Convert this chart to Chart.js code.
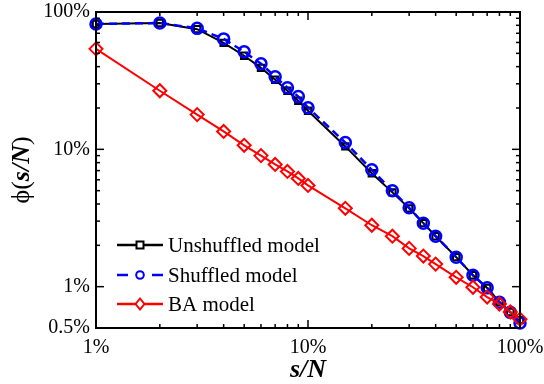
<!DOCTYPE html>
<html>
<head>
<meta charset="utf-8">
<script src="https://cdn.jsdelivr.net/npm/chart.js@4/dist/chart.umd.min.js"></script>
<style>
html,body{margin:0;padding:0;background:#fff;}
canvas{display:block;}
</style>
</head>
<body>
<canvas id="c" width="544" height="384"></canvas>
<script>
// Data (percent values)
const sizes = [1,2,3,4,5,6,7,8,9,10,15,20,25,30,35,40,50,60,70,80,90,100];
const unshuffled = [81.8,83.2,75,59.6,48,39.2,32.1,26.7,22.6,19.1,10.5,6.7,4.86,3.72,2.9,2.33,1.64,1.21,0.977,0.773,0.654,0.57];
const shuffled   = [81.8,83.2,76,63.7,51.3,42,33.8,28.1,24.2,20.1,11.2,7.1,5.0,3.75,2.9,2.33,1.64,1.21,0.98,0.77,0.65,0.543];
const baModel    = [53.9,26.7,17.9,13.5,10.7,9.0,7.76,6.9,6.14,5.46,3.72,2.8,2.33,1.9,1.67,1.46,1.17,0.99,0.84,0.748,0.654,0.58];
const seriesNames = ['Unshuffled model','Shuffled model','BA model'];
const xTickValues = [1,10,100];
const yTickValues = [0.5,1,10,100];
const xMinorValues = [2,3,4,5,6,7,8,9,20,30,40,50,60,70,80,90];
const yMinorValues = [2,3,4,5,6,7,8,9,20,30,40,50,60,70,80,90];

const FONT = "'Liberation Serif', 'Times New Roman', serif";

function pts(vals){ return sizes.map((s,i)=>({x:s,y:vals[i]})); }

const styles = [
  {color:'#000000', dash:[], width:2, pointStyle:'rect', r:4.5, pw:2, lr:3.5},
  {color:'#0000ff', dash:[8,5], width:2.5, pointStyle:'circle', r:5.5, pw:2.5, lr:3.8},
  {color:'#ff0000', dash:[], width:2, pointStyle:'rectRot', r:6.5, pw:2, lr:5.5}
];

const decor = {
  id:'decor',
  afterDatasetsDraw(chart){
    const ctx = chart.ctx;
    const a = chart.chartArea;
    const xs = chart.scales.x, ys = chart.scales.y;
    ctx.save();
    ctx.strokeStyle = '#000';
    ctx.lineWidth = 1.5;
    const tick = (x1,y1,x2,y2)=>{ctx.beginPath();ctx.moveTo(x1,y1);ctx.lineTo(x2,y2);ctx.stroke();};
    xTickValues.forEach(v=>{const p=xs.getPixelForValue(v); tick(p,a.bottom,p,a.bottom-8); tick(p,a.top,p,a.top+8);});
    xMinorValues.forEach(v=>{const p=xs.getPixelForValue(v); tick(p,a.bottom,p,a.bottom-4); tick(p,a.top,p,a.top+4);});
    yTickValues.forEach(v=>{const p=ys.getPixelForValue(v); tick(a.left,p,a.left+8,p); tick(a.right,p,a.right-8,p);});
    yMinorValues.forEach(v=>{const p=ys.getPixelForValue(v); tick(a.left,p,a.left+4,p); tick(a.right,p,a.right-4,p);});
    ctx.lineWidth = 2;
    ctx.strokeRect(a.left, a.top, a.right-a.left, a.bottom-a.top);

    // legend
    const rows = [245, 275, 304];
    const lx1 = 117, lx2 = 163, mx = 140;
    rows.forEach((y,i)=>{
      const s = styles[i];
      ctx.strokeStyle = s.color;
      ctx.lineWidth = 2.5;
      ctx.setLineDash([]);
      if (i===1){
        tick(lx1,y,lx1+11,y); tick(lx2-11,y,lx2,y);
      } else {
        tick(lx1,y,lx2,y);
      }
      ctx.lineWidth = 2;
      ctx.beginPath();
      if (s.pointStyle==='rect'){ ctx.rect(mx-s.lr,y-s.lr,2*s.lr,2*s.lr); }
      else if (s.pointStyle==='circle'){ ctx.arc(mx,y,s.lr,0,Math.PI*2); }
      else { ctx.moveTo(mx,y-s.lr); ctx.lineTo(mx+s.lr*0.8,y); ctx.lineTo(mx,y+s.lr); ctx.lineTo(mx-s.lr*0.8,y); ctx.closePath(); }
      ctx.fillStyle = '#fff'; ctx.fill(); ctx.stroke();
      ctx.fillStyle = '#000';
      ctx.font = "21px " + FONT;
      ctx.textAlign = 'left'; ctx.textBaseline = 'middle';
      ctx.fillText(seriesNames[i], 168, y+1);
    });
    ctx.restore();

    // axis titles
    ctx.save();
    ctx.fillStyle = '#000';
    ctx.textBaseline = 'alphabetic';
    ctx.font = "italic bold 26px " + FONT;
    ctx.textAlign = 'center';
    ctx.fillText('s/N', (a.left+a.right)/2, 377);

    const parts = [['\u03D5(', "26px " + FONT], ['s/N', "italic bold 26px " + FONT], [')', "26px " + FONT]];
    let total = 0;
    parts.forEach(p=>{ctx.font=p[1]; total += ctx.measureText(p[0]).width;});
    ctx.translate(29, (a.top+a.bottom)/2);
    ctx.rotate(-Math.PI/2);
    ctx.textAlign = 'left';
    let cx = -total/2;
    parts.forEach(p=>{ctx.font=p[1]; ctx.fillText(p[0], cx, 0); cx += ctx.measureText(p[0]).width;});
    ctx.restore();
  }
};

const datasets = [unshuffled, shuffled, baModel].map((vals,i)=>{
  const s = styles[i];
  return {
    label: seriesNames[i],
    data: pts(vals),
    borderColor: s.color,
    borderWidth: s.width,
    borderDash: s.dash,
    backgroundColor: 'rgba(0,0,0,0)',
    pointStyle: s.pointStyle,
    pointRadius: s.r,
    pointBorderWidth: s.pw,
    pointBorderColor: s.color,
    pointBackgroundColor: 'rgba(0,0,0,0)',
    tension: 0,
    fill: false,
    clip: false,
    order: [3,2,1][i]
  };
});

new Chart(document.getElementById('c'), {
  type: 'line',
  data: { datasets },
  options: {
    responsive: false,
    animation: false,
    events: [],
    layout: { padding: { top: 12, right: 24, left: 0, bottom: 0 } },
    plugins: { legend: { display: false }, tooltip: { enabled: false } },
    scales: {
      x: {
        type: 'logarithmic', min: 1, max: 100,
        afterBuildTicks: s => { s.ticks = xTickValues.map(v=>({value:v})); },
        afterFit: s => { s.height = 56; s.paddingLeft = 0; s.paddingRight = 0; },
        grid: { display: false, drawTicks: false },
        border: { display: false },
        ticks: { autoSkip: false, maxRotation: 0, padding: 8, color: '#000',
                 font: { family: FONT, size: 20 }, callback: v => v + '%' }
      },
      y: {
        type: 'logarithmic', min: 0.5, max: 100,
        afterBuildTicks: s => { s.ticks = yTickValues.map(v=>({value:v})); },
        afterFit: s => { s.width = 96; s.paddingTop = 0; s.paddingBottom = 0; },
        grid: { display: false, drawTicks: false },
        border: { display: false },
        ticks: { autoSkip: false, padding: 6, color: '#000',
                 font: { family: FONT, size: 20 }, callback: v => v + '%' }
      }
    }
  },
  plugins: [decor]
});
</script>
</body>
</html>
